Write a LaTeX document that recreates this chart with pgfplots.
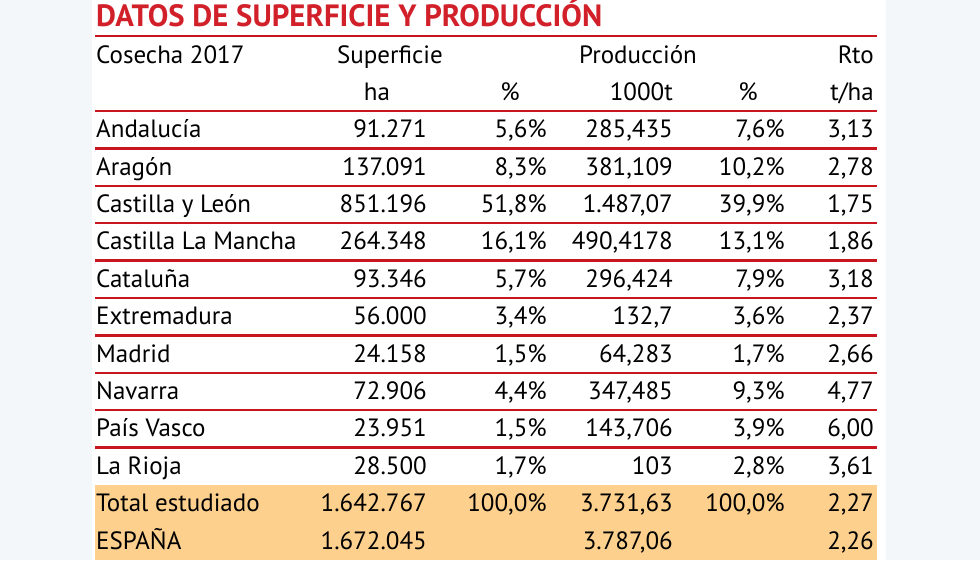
\documentclass[border=0pt]{standalone}
\usepackage{pgfplots}
\pgfplotsset{compat=1.18}
\usepackage{fontspec}
\setmainfont{PT Sans}
\definecolor{tred}{HTML}{D2202A}
\definecolor{lred}{HTML}{C8161E}
\definecolor{peach}{HTML}{FDD08E}
\definecolor{bgblue}{HTML}{F3F7FA}
\newcommand{\cf}{\fontsize{25}{30}\selectfont}
\newcommand{\R}[2]{\node[anchor=base east,inner sep=0pt] at (axis cs:#1) {\cf #2};}
\newcommand{\Lb}[2]{\node[anchor=base west,inner sep=0pt] at (axis cs:#1) {\cf #2};}
\newcommand{\C}[2]{\node[anchor=base,inner sep=0pt] at (axis cs:#1) {\cf #2};}
\newcommand{\row}[7]{%
  \Lb{96,#1}{#2}\R{427,#1}{#3}\R{547,#1}{#4}\R{673,#1}{#5}\R{785,#1}{#6}\R{874,#1}{#7}}
\begin{document}
\begin{tikzpicture}
\begin{axis}[scale only axis, width=980pt, height=560pt,
  xmin=0, xmax=980, ymin=0, ymax=560, y dir=reverse,
  axis lines=none, ticks=none, clip=false]
\addplot[fill=bgblue, draw=none] coordinates {(0,0)(980,0)(980,560)(0,560)} -- cycle;
\addplot[fill=white, draw=none] coordinates {(92,0)(886,0)(886,560)(92,560)} -- cycle;
\addplot[fill=peach, draw=none] coordinates {(95,484.8)(877,484.8)(877,560)(95,560)} -- cycle;
\pgfplotsinvokeforeach{36,110.8,148.2,185.6,223,260.4,297.8,335.2,372.6,410,447.4}{
  \addplot[lred, line width=2.4pt] coordinates {(95,#1)(877,#1)};
}
\node[anchor=base west,inner sep=0pt,text=tred] at (axis cs:96,26.5) {\resizebox{506pt}{!}{\fontsize{30}{34}\selectfont\bfseries DATOS DE SUPERFICIE Y PRODUCCIÓN}};
\Lb{96,63.3}{Cosecha 2017}
\C{390,63.3}{Superficie}
\C{638,63.3}{Producción}
\R{874,63.3}{Rto}
\C{377,100.1}{ha}
\C{510,100.1}{\%}
\R{673,100.1}{1000t}
\C{748,100.1}{\%}
\R{874,100.1}{t/ha}
\row{137.5}{Andalucía}{91.271}{5,6\%}{285,435}{7,6\%}{3,13}
\row{174.9}{Aragón}{137.091}{8,3\%}{381,109}{10,2\%}{2,78}
\row{212.3}{Castilla y León}{851.196}{51,8\%}{1.487,07}{39,9\%}{1,75}
\row{249.7}{Castilla La Mancha}{264.348}{16,1\%}{490,4178}{13,1\%}{1,86}
\row{287.1}{Cataluña}{93.346}{5,7\%}{296,424}{7,9\%}{3,18}
\row{324.5}{Extremadura}{56.000}{3,4\%}{132,7}{3,6\%}{2,37}
\row{361.9}{Madrid}{24.158}{1,5\%}{64,283}{1,7\%}{2,66}
\row{399.3}{Navarra}{72.906}{4,4\%}{347,485}{9,3\%}{4,77}
\row{436.7}{País Vasco}{23.951}{1,5\%}{143,706}{3,9\%}{6,00}
\row{474.1}{La Rioja}{28.500}{1,7\%}{103}{2,8\%}{3,61}
\row{511.5}{Total estudiado}{1.642.767}{100,0\%}{3.731,63}{100,0\%}{2,27}
\row{548.9}{ESPAÑA}{1.672.045}{}{3.787,06}{}{2,26}
\end{axis}
\end{tikzpicture}
\end{document}
